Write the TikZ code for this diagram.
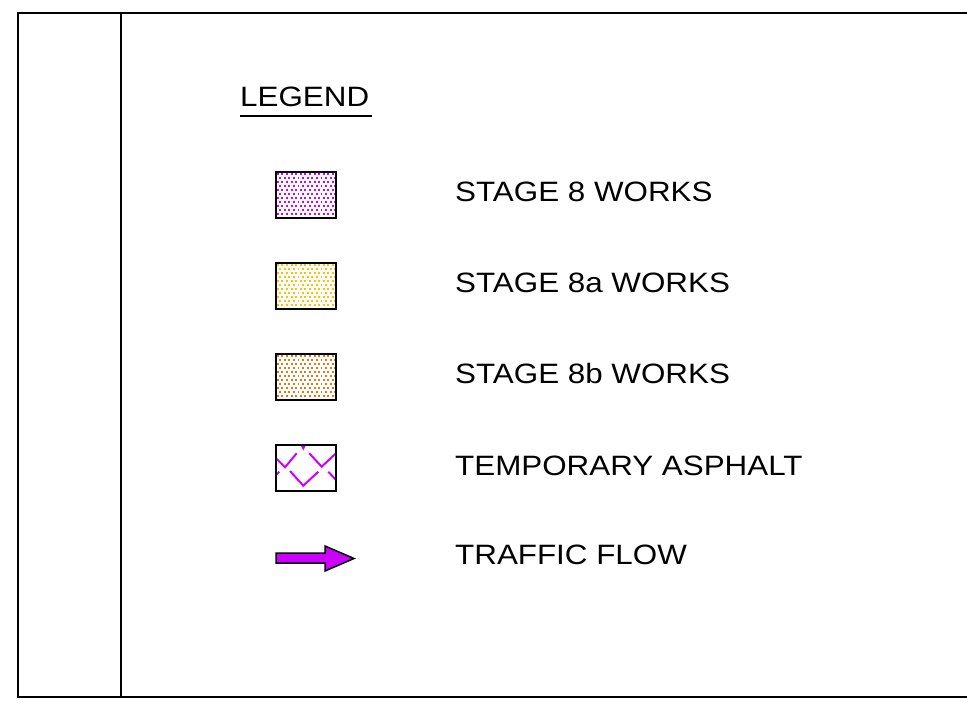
\documentclass[tikz,border=0pt]{standalone}
\usepackage{fontspec}
\setmainfont{Liberation Sans}
\definecolor{mag}{RGB}{204,0,255}
\definecolor{yel}{RGB}{255,192,0}
\definecolor{ora}{RGB}{228,118,20}
\begin{document}
\begin{tikzpicture}[x=1pt,y=-1pt,
  frameline/.style={line width=2pt,black},
  legbox/.style={draw,line width=2pt,minimum width=60pt,minimum height=46pt,inner sep=0pt},
  dots/.style={path picture={
    \foreach \i in {0,...,13}{\foreach \j in {0,...,11}{
      \pgfmathsetmacro{\dx}{\i*4.6+mod(\j,2)*2.3+0.8}
      \pgfmathsetmacro{\dy}{-\j*4.0-1.4}
      \fill[#1] ([xshift=\dx pt, yshift=\dy pt]path picture bounding box.north west) rectangle ++(1.9pt,-1.9pt);
    }}}},
  lbl/.style={anchor=base west,inner sep=0pt,font=\fontsize{28}{30}\selectfont},
  asph/.style={mag,line width=2pt}
]
\useasboundingbox (0,0) rectangle (967,703);
% frame
\draw[frameline] (967,13) -- (18,13) -- (18,697) -- (967,697);
\draw[frameline] (121,13) -- (121,697);
% legend title
\node[lbl] (title) at (240,107) {\scalebox{1.12}[1]{LEGEND}};
\draw[line width=1.5pt] (240,116) -- (372,116);
% boxes
\node[legbox,dots=mag] (b1) at (306,195) {};
\node[legbox,dots=yel] (b2) at (306,286) {};
\node[legbox,dots=ora] (b3) at (306,377) {};
% temporary asphalt hatch
\begin{scope}
\clip (276,445) rectangle (336,491);
\draw[asph] (276.7,459) -- (285,467.3) -- (296.7,453.3);
\draw[asph] (309.3,453.3) -- (321.7,466.7) -- (336,453.3);
\draw[asph] (276.7,474.3) -- (279.3,471.7);
\draw[asph] (290,471) -- (303.3,485.7) -- (318.3,471.7);
\draw[asph] (328.3,471.7) -- (336,480);
\draw[asph] (301.7,445) -- (303.3,448.3) -- (305,445);
\end{scope}
\node[legbox] (b4) at (306,468) {};
% arrow
\draw[fill=mag,line width=1.5pt,line join=miter] (276,553) -- (325,553) -- (325,546) -- (354,558.5) -- (325,571) -- (325,563) -- (276,563) -- cycle;
\coordinate (arr) at (315,558);
% labels
\node[lbl] (t1) at (455,202) {\scalebox{1.12}[1]{STAGE 8 WORKS}};
\node[lbl] (t2) at (455,293) {\scalebox{1.12}[1]{STAGE 8a WORKS}};
\node[lbl] (t3) at (455,384) {\scalebox{1.12}[1]{STAGE 8b WORKS}};
\node[lbl] (t4) at (455,475) {\scalebox{1.12}[1]{TEMPORARY ASPHALT}};
\node[lbl] (t5) at (455,564) {\scalebox{1.12}[1]{TRAFFIC FLOW}};
\end{tikzpicture}
\end{document}
